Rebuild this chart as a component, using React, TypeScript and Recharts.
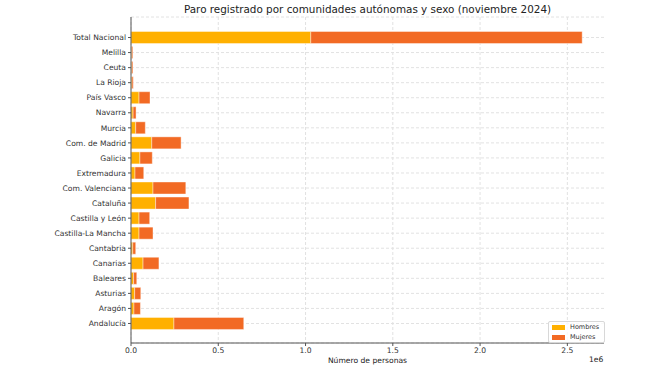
import {
  Bar,
  BarChart,
  CartesianGrid,
  XAxis,
  YAxis,
} from "recharts";

const regions = [
  "Total Nacional",
  "Melilla",
  "Ceuta",
  "La Rioja",
  "País Vasco",
  "Navarra",
  "Murcia",
  "Com. de Madrid",
  "Galicia",
  "Extremadura",
  "Com. Valenciana",
  "Cataluña",
  "Castilla y León",
  "Castilla-La Mancha",
  "Cantabria",
  "Canarias",
  "Baleares",
  "Asturias",
  "Aragón",
  "Andalucía",
];

const hombres = [
  1030000, 4500, 4500, 5500, 46000, 12000, 27000, 119000, 51000, 23000,
  126000, 141000, 46000, 46000, 10000, 69000, 15000, 21000, 17000, 246000,
];

const mujeres = [
  1555000, 6000, 6500, 7500, 63000, 17000, 55000, 168000, 71000, 50000,
  188000, 191000, 61000, 80000, 17000, 91000, 18000, 35000, 37000, 400000,
];

const xTicks = [0, 500000, 1000000, 1500000, 2000000, 2500000];
const X_MAX = 2710000;

const HOMBRES_COLOR = "#FFB000";
const MUJERES_COLOR = "#F26A24";
const FONT = "'DejaVu Sans', sans-serif";

const W = 659;
const H = 371;
const MARGIN = { top: 17, right: 55, bottom: 8, left: 0 };
const Y_AXIS_W = 131;
const PLOT_LEFT = MARGIN.left + Y_AXIS_W;
const PLOT_W = W - MARGIN.right - PLOT_LEFT;

const data = regions.map((name, i) => ({
  name,
  hombres: hombres[i],
  mujeres: mujeres[i],
}));

function LegendBox() {
  const items = [
    { label: "Hombres", color: HOMBRES_COLOR },
    { label: "Mujeres", color: MUJERES_COLOR },
  ];
  return (
    <div
      style={{
        position: "absolute",
        left: 548,
        top: 321,
        width: 49,
        border: "1px solid #d8d8d8",
        borderRadius: 2,
        background: "rgba(255,255,255,0.8)",
        padding: "0px 3px",
        fontFamily: FONT,
        fontSize: 6.5,
        color: "#333",
        lineHeight: "10px",
      }}
    >
      {items.map((it) => (
        <div key={it.label} style={{ display: "flex", alignItems: "center", height: 10 }}>
          <span
            style={{
              display: "inline-block",
              width: 13,
              height: 5,
              background: it.color,
              marginRight: 5,
            }}
          />
          {it.label}
        </div>
      ))}
    </div>
  );
}

export default function App() {
  return (
    <div
      style={{
        position: "absolute",
        left: 0,
        top: 0,
        width: W,
        height: H,
        background: "#fff",
        fontFamily: FONT,
      }}
    >
      <div
        style={{
          position: "absolute",
          left: PLOT_LEFT,
          width: PLOT_W,
          top: 3,
          textAlign: "center",
          fontSize: 10.4,
          color: "#222",
        }}
      >
        Paro registrado por comunidades autónomas y sexo (noviembre 2024)
      </div>
      <BarChart
        width={W}
        height={H}
        data={data}
        layout="vertical"
        margin={MARGIN}
        barCategoryGap="10%"
      >
        <CartesianGrid
          strokeDasharray="3 2"
          stroke="#e2e2e2"
          verticalPoints={xTicks.map((t) => PLOT_LEFT + (t / X_MAX) * PLOT_W)}
        />
        <XAxis
          type="number"
          domain={[0, X_MAX]}
          ticks={xTicks}
          tickFormatter={(v: number) => (v / 1e6).toFixed(1)}
          tick={{ fontSize: 7.6, fill: "#333", fontFamily: FONT }}
          tickSize={3}
          tickLine={{ stroke: "#555" }}
          axisLine={{ stroke: "#555" }}
          height={20}
          allowDataOverflow
        />
        <YAxis
          type="category"
          dataKey="name"
          width={Y_AXIS_W}
          padding={{ top: 13, bottom: 12 }}
          tick={{ fontSize: 7.6, fill: "#333", fontFamily: FONT }}
          tickSize={3}
          tickLine={{ stroke: "#555" }}
          axisLine={{ stroke: "#555" }}
          interval={0}
        />
        <Bar
          dataKey="hombres"
          name="Hombres"
          stackId="a"
          fill={HOMBRES_COLOR}
          stroke="#ffffff"
          strokeOpacity={0.5}
          strokeWidth={0.8}
          isAnimationActive={false}
        />
        <Bar
          dataKey="mujeres"
          name="Mujeres"
          stackId="a"
          fill={MUJERES_COLOR}
          stroke="#ffffff"
          strokeOpacity={0.5}
          strokeWidth={0.8}
          isAnimationActive={false}
        />
      </BarChart>
      <LegendBox />
      <div
        style={{
          position: "absolute",
          left: PLOT_LEFT,
          width: PLOT_W,
          top: 356,
          textAlign: "center",
          fontSize: 7.6,
          color: "#222",
        }}
      >
        Número de personas
      </div>
      <div
        style={{
          position: "absolute",
          left: 589,
          top: 355,
          fontSize: 7.6,
          color: "#222",
        }}
      >
        1e6
      </div>
    </div>
  );
}
